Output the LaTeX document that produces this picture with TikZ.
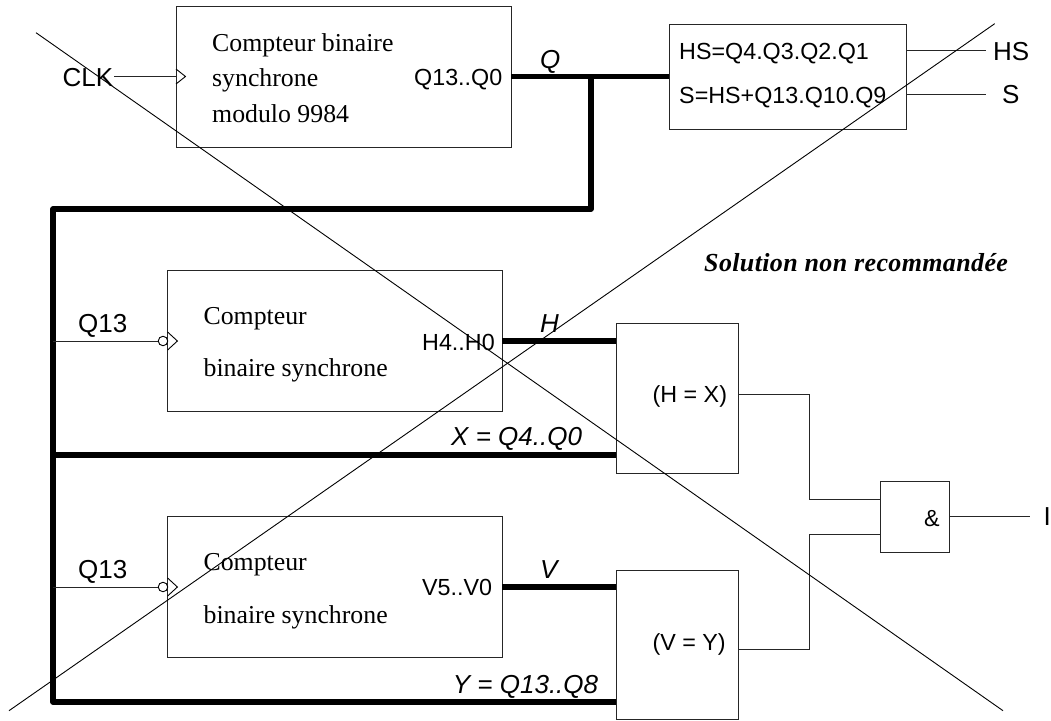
\documentclass[tikz,border=0pt]{standalone}
\usepackage{fontspec}
\setmainfont{Liberation Serif}
\setsansfont{Liberation Sans}
\begin{document}
\begin{tikzpicture}[x=1pt,y=-1pt,
  blockbox/.style={draw=black!85,line width=1pt,inner sep=0pt,outer sep=0pt},
  thinwire/.style={draw=black!85,line width=1pt,line join=miter},
  buswire/.style={draw=black,line width=5.5pt,line join=round},
  strikeline/.style={draw=black,line width=.9pt},
  clockmark/.style={draw=black,line width=.9pt},
  bubble/.style={circle,draw=black,line width=.9pt,fill=white,minimum size=9.5pt,inner sep=0pt,outer sep=0pt},
  serif/.style={font=\fontsize{25.8}{28}\selectfont\rmfamily,anchor=base west,inner sep=0pt},
  sanssm/.style={font=\fontsize{23.3}{26}\selectfont\sffamily,anchor=base west,inner sep=0pt},
  sanslg/.style={font=\fontsize{26}{28}\selectfont\sffamily,anchor=base west,inner sep=0pt},
  sansit/.style={font=\fontsize{26}{28}\selectfont\sffamily\itshape,anchor=base west,inner sep=0pt},
  note/.style={font=\fontsize{26}{28}\selectfont\rmfamily\bfseries\itshape\addfontfeature{LetterSpace=1.4},anchor=base west,inner sep=0pt}]
\useasboundingbox (0,0) rectangle (1051,720);
% blocks
\node[blockbox,minimum width=335pt,minimum height=141pt] (cnt) at (343.5,76.5) {};
\node[blockbox,minimum width=237.5pt,minimum height=105pt] (dec) at (787.75,76.5) {};
\node[blockbox,minimum width=334.5pt,minimum height=141pt] (cnth) at (334.8,341) {};
\node[blockbox,minimum width=334.5pt,minimum height=141pt] (cntv) at (334.8,587) {};
\node[blockbox,minimum width=122.7pt,minimum height=150pt] (eqh) at (677.6,398) {};
\node[blockbox,minimum width=122.7pt,minimum height=149pt] (eqv) at (677.6,644.5) {};
\node[blockbox,minimum width=69.7pt,minimum height=71pt] (and) at (914.85,517.2) {};
% block texts
\node[serif] (t1) at (212,51) {Compteur binaire};
\node[serif] (t2) at (212,86.5) {synchrone};
\node[serif] (t3) at (212,122) {modulo 9984};
\node[serif] (t4) at (203.4,324) {Compteur};
\node[serif] (t5) at (203.4,376) {binaire synchrone};
\node[serif] (t6) at (203.4,570) {Compteur};
\node[serif] (t7) at (203.4,623) {binaire synchrone};
\node[sanssm] (qq) at (414,85.5) {Q13..Q0};
\node[sanssm] (hh) at (422,350) {H4..H0};
\node[sanssm] (vv) at (422,595.5) {V5..V0};
\node[sanssm] (hs1) at (679,59.5) {HS=Q4.Q3.Q2.Q1};
\node[sanssm] (s1) at (679,103.5) {S=HS+Q13.Q10.Q9};
\node[sanssm] (eq1) at (652.4,402.5) {(H = X)};
\node[sanssm] (eq2) at (652.4,650.5) {(V = Y)};
\node[sanssm] (amp) at (924,526) {\&};
% outer labels
\node[sanslg] (clk) at (62.5,86) {CLK};
\node[sanslg] (q13a) at (78,332) {Q13};
\node[sanslg] (q13b) at (78,578) {Q13};
\node[sanslg] (hsl) at (993,60) {HS};
\node[sanslg] (sl) at (1002,103) {S};
\node[sanslg] (il) at (1043.5,525.5) {I};
\node[sansit] (ql) at (540,68) {Q};
\node[sansit] (hl) at (540,332) {H};
\node[sansit] (vl) at (540,578) {V};
\node[sansit] (xl) at (451,445) {X = Q4..Q0};
\node[sansit] (yl) at (452.7,693) {Y = Q13..Q8};
\node[note] (sol) at (704,271) {Solution non recommandée};
% coordinates
\coordinate (busjoin) at (591,76.5);
\coordinate (busturn) at (591,209);
\coordinate (busleft) at (53,209);
\coordinate (busbot) at (53,702);
\coordinate (busx) at (53,455);
\coordinate (hswire) at (985.5,50);
\coordinate (swire) at (985.5,94);
\coordinate (clkw) at (114,76.5);
\coordinate (iw) at (1029.5,516.7);
\coordinate (tapa) at (53,341);
\coordinate (tapb) at (53,587);
% buses
\draw[buswire] (cnt.east) -- (dec.west);
\draw[buswire] (busjoin) -- (busturn) -- (busleft) -- (busbot) -- (busbot -| eqv.west);
\draw[buswire] (busx) -- (busx -| eqh.west);
\draw[buswire] (cnth.east) -- (cnth.east -| eqh.west);
\draw[buswire] (cntv.east) -- (cntv.east -| eqv.west);
% thin wires
\draw[thinwire] (hswire -| dec.east) -- (hswire);
\draw[thinwire] (swire -| dec.east) -- (swire);
\draw[thinwire] (clkw) -- (clkw -| cnt.west);
\node[bubble] (bh) at (163,341) {};
\node[bubble] (bv) at (163,587) {};
\draw[thinwire] (tapa) -- (bh.west);
\draw[thinwire] (tapb) -- (bv.west);
\draw[thinwire] (eqh.east |- 0,394) -| (809.5,499.5) -- (and.west |- 0,499.5);
\draw[thinwire] (eqv.east |- 0,649) -| (809.5,534.7) -- (and.west |- 0,534.7);
\draw[thinwire] (and.east |- iw) -- (iw);
% clock marks
\draw[clockmark] (176,69) -- (185.5,76.5) -- (176,84);
\draw[clockmark] (167.6,332) -- (177.4,341) -- (167.6,350);
\draw[clockmark] (167.6,578) -- (177.4,587) -- (167.6,596);
% crossing-out lines
\coordinate (da) at (36,32.7);
\coordinate (db) at (1003,710.7);
\coordinate (dc) at (9,710.7);
\coordinate (dd) at (994.7,23.7);
\draw[strikeline] (da) -- (db);
\draw[strikeline] (dc) -- (dd);
\end{tikzpicture}
\end{document}
